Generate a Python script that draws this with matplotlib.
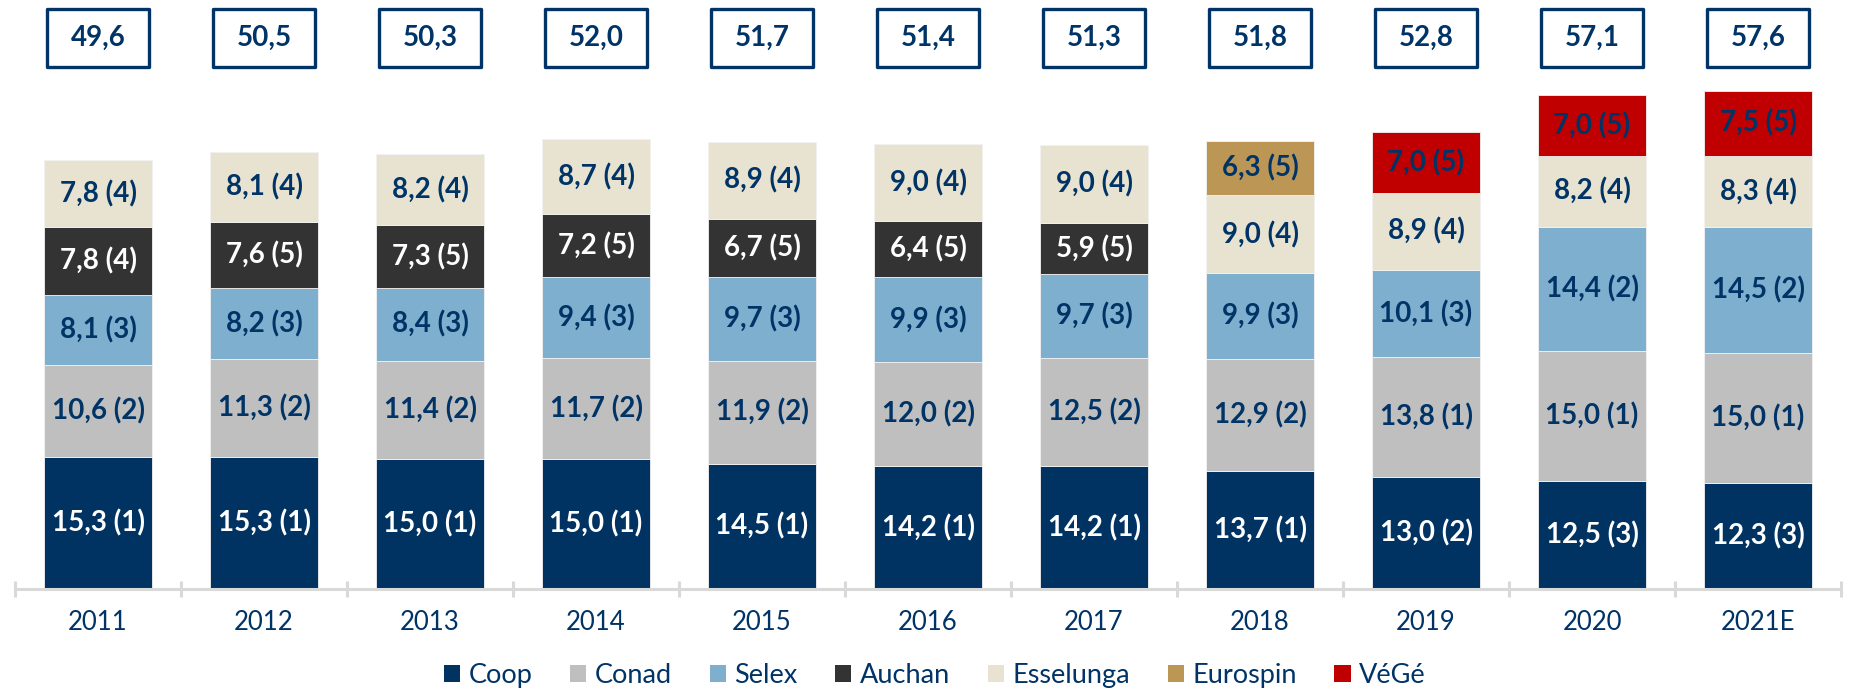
import matplotlib
matplotlib.use('Agg')
import matplotlib.pyplot as plt
from matplotlib.patches import Rectangle, Patch
import numpy as np

nan = np.nan
years = ['2011', '2012', '2013', '2014', '2015', '2016', '2017', '2018', '2019', '2020', '2021E']
totals = [49.6, 50.5, 50.3, 52.0, 51.7, 51.4, 51.3, 51.8, 52.8, 57.1, 57.6]

coop = [15.3, 15.3, 15.0, 15.0, 14.5, 14.2, 14.2, 13.7, 13.0, 12.5, 12.3]
coop_rank = [1, 1, 1, 1, 1, 1, 1, 1, 2, 3, 3]
conad = [10.6, 11.3, 11.4, 11.7, 11.9, 12.0, 12.5, 12.9, 13.8, 15.0, 15.0]
conad_rank = [2, 2, 2, 2, 2, 2, 2, 2, 1, 1, 1]
selex = [8.1, 8.2, 8.4, 9.4, 9.7, 9.9, 9.7, 9.9, 10.1, 14.4, 14.5]
selex_rank = [3, 3, 3, 3, 3, 3, 3, 3, 3, 2, 2]
auchan = [7.8, 7.6, 7.3, 7.2, 6.7, 6.4, 5.9, nan, nan, nan, nan]
auchan_rank = [4, 5, 5, 5, 5, 5, 5, 0, 0, 0, 0]
esselunga = [7.8, 8.1, 8.2, 8.7, 8.9, 9.0, 9.0, 9.0, 8.9, 8.2, 8.3]
esselunga_rank = [4, 4, 4, 4, 4, 4, 4, 4, 4, 4, 4]
eurospin = [nan, nan, nan, nan, nan, nan, nan, 6.3, nan, nan, nan]
eurospin_rank = [0, 0, 0, 0, 0, 0, 0, 5, 0, 0, 0]
vege = [nan, nan, nan, nan, nan, nan, nan, nan, 7.0, 7.0, 7.5]
vege_rank = [0, 0, 0, 0, 0, 0, 0, 0, 5, 5, 5]

navy = '#003366'
series = [
    ('Coop', coop, coop_rank, '#003362', 'white'),
    ('Conad', conad, conad_rank, '#bfbfbf', navy),
    ('Selex', selex, selex_rank, '#7fafce', navy),
    ('Auchan', auchan, auchan_rank, '#333333', 'white'),
    ('Esselunga', esselunga, esselunga_rank, '#e8e3d1', navy),
    ('Eurospin', eurospin, eurospin_rank, '#bc9655', navy),
    ('VéGé', vege, vege_rank, '#c00000', navy),
]

plt.rcParams['font.family'] = ['Lato', 'DejaVu Sans']

fig = plt.figure(figsize=(18.51, 6.92), dpi=100)
ax = fig.add_axes([15 / 1851, 103 / 692, 1826 / 1851, 589 / 692])

x = np.arange(len(years))
bottom = np.zeros(len(years))
for name, vals, ranks, color, tcolor in series:
    v = np.array(vals, dtype=float)
    h = np.nan_to_num(v)
    ax.bar(x, h, 0.645, bottom=bottom, color=color, edgecolor='#f2f2f2',
           linewidth=0.6, label=name)
    for i in range(len(years)):
        if not np.isnan(v[i]):
            txt = f'{v[i]:.1f}'.replace('.', ',') + f' ({ranks[i]})'
            ax.text(x[i], bottom[i] + h[i] / 2, txt, ha='center', va='center',
                    color=tcolor, fontsize=20, fontweight='bold')
    bottom += h

# boxes with totals on top
for i, t in enumerate(totals):
    ax.add_patch(Rectangle((x[i] - 0.31, 60.35), 0.62, 6.7, fill=False,
                           edgecolor=navy, linewidth=2.4, clip_on=False,
                           joinstyle='round'))
    ax.text(x[i], 63.7, f'{t:.1f}'.replace('.', ','), ha='center', va='center',
            color=navy, fontsize=20, fontweight='bold')

ax.set_xlim(-0.5, len(years) - 0.5)
ax.set_ylim(0, 68.1)
ax.set_yticks([])
for s in ['top', 'right', 'left']:
    ax.spines[s].set_visible(False)
ax.spines['bottom'].set_color('#d9d9d9')
ax.spines['bottom'].set_linewidth(2.2)
ax.set_xticks(x)
ax.set_xticklabels(years)
ax.tick_params(axis='x', which='major', length=0, pad=15, labelsize=18.5, labelcolor=navy)
ax.set_xticks(np.arange(-0.5, len(years)), minor=True)
ax.tick_params(axis='x', which='minor', direction='inout', length=12, width=2.2,
               color='#d9d9d9')

handles = [Patch(facecolor=c, label=n) for n, _, _, c, _ in series]
leg = fig.legend(handles=handles, loc='lower center', bbox_to_anchor=(0.505, -0.029),
                 ncol=7, frameon=False, fontsize=19.5, handlelength=0.6,
                 handleheight=0.6, handletextpad=0.3, columnspacing=1.4)
for t in leg.get_texts():
    t.set_color(navy)

fig.savefig('out.png', dpi=100)
